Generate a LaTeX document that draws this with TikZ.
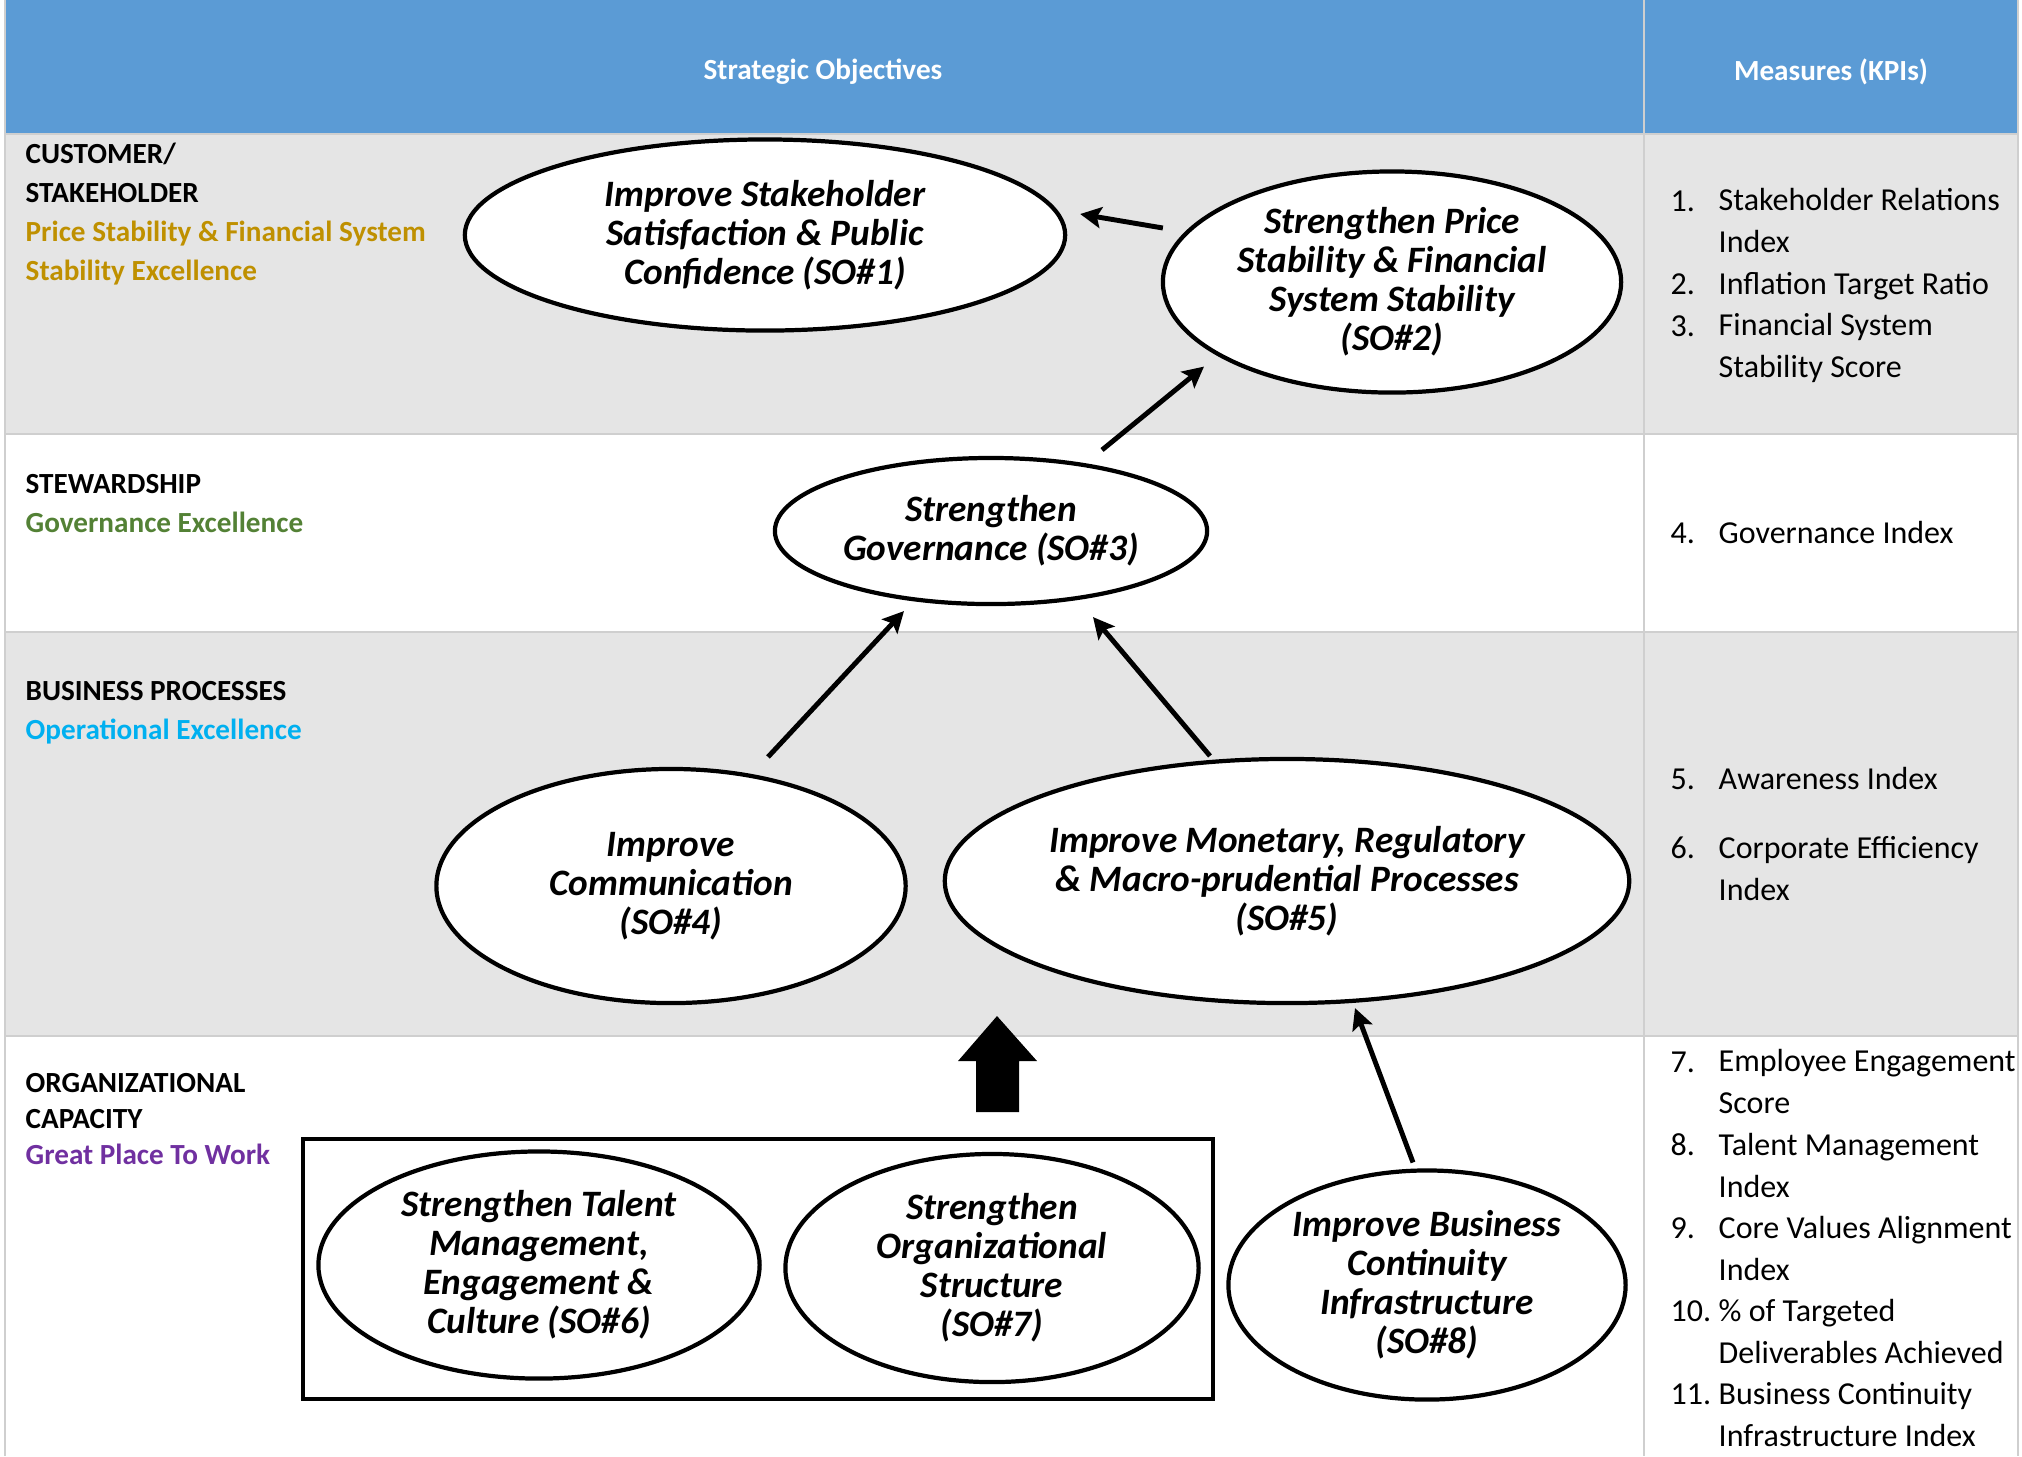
\documentclass[tikz,border=0pt]{standalone}
\usepackage{fontspec}
\setmainfont{Carlito}
\usetikzlibrary{shapes.geometric,arrows.meta}

\definecolor{headblue}{HTML}{5B9BD5}
\definecolor{rowgray}{HTML}{E5E5E5}
\definecolor{gridgray}{HTML}{CFCFCF}
\definecolor{persgold}{HTML}{BF9000}
\definecolor{persgreen}{HTML}{538135}
\definecolor{perscyan}{HTML}{00B0F0}
\definecolor{perspurple}{HTML}{7030A0}

\newcommand{\objfont}{\fontsize{10.6}{11.1}\selectfont\bfseries\itshape}
\newcommand{\persfont}{\fontsize{8.3}{11}\selectfont\bfseries}
\newcommand{\kpifont}{\fontsize{9.1}{11.9}\selectfont}

\tikzset{
    obj/.style={ellipse, draw, line width=1.2pt, fill=white, inner sep=0pt, outer sep=0pt, align=center, font=\objfont},
    arr/.style={-{Stealth[length=6pt,width=6pt,inset=1.2pt]}, line width=1.4pt},
    pers/.style={anchor=base west, align=left, inner sep=0pt, font=\persfont},
    kpi/.style={anchor=base west, align=left, inner sep=0pt, font=\kpifont},
    head/.style={text=white, font=\fontsize{8.3}{10}\selectfont\bfseries}
}

\begin{document}
\begin{tikzpicture}[x=0.01cm, y=-0.01cm]
\useasboundingbox (0,0) rectangle (2022,1456);

% Table background
\fill[headblue] (5,0) rectangle (2018,134);
\fill[rowgray] (5,134) rectangle (2018,434);   % customer row
\fill[rowgray] (5,632) rectangle (2018,1036);  % business processes row

% Grid lines
\foreach \y in {134,434,632,1036}
    \draw[gridgray, line width=0.6pt] (5,\y) -- (2018,\y);
\foreach \x in {5,1644,2018}
    \draw[gridgray, line width=0.6pt] (\x,0) -- (\x,1456);

% Header
\node[head] (hdobj) at (823,72) {Strategic Objectives};
\node[head] (hdkpi) at (1831,72) {Measures (KPIs)};

% Perspectives (anchored on the baseline of their last line)
\node[pers] (perscust) at (25,280) {CUSTOMER/\\STAKEHOLDER\\\textcolor{persgold}{Price Stability \& Financial System}\\\textcolor{persgold}{Stability Excellence}};
\node[pers] (persstew) at (25,532) {STEWARDSHIP\\\textcolor{persgreen}{Governance Excellence}};
\node[pers] (persbus) at (25,739) {BUSINESS PROCESSES\\\textcolor{perscyan}{Operational Excellence}};
\node[pers, font=\fontsize{8.3}{10.2}\selectfont\bfseries] (persorg) at (25,1164) {ORGANIZATIONAL\\CAPACITY\\\textcolor{perspurple}{Great Place To Work}};

% Strategic objectives
\node[obj, minimum width=6.0cm, minimum height=1.91cm] (so1) at (765,235) {Improve Stakeholder\\Satisfaction \& Public\\Confidence (SO\#1)};
\node[obj, minimum width=4.58cm, minimum height=2.21cm] (so2) at (1392,282) {Strengthen Price\\Stability \& Financial\\System Stability\\(SO\#2)};
\node[obj, minimum width=4.32cm, minimum height=1.46cm] (so3) at (991,531) {Strengthen\\Governance (SO\#3)};
\node[obj, minimum width=4.69cm, minimum height=2.34cm] (so4) at (671,886) {Improve\\Communication\\(SO\#4)};
\node[obj, minimum width=6.84cm, minimum height=2.44cm] (so5) at (1287,881) {Improve Monetary, Regulatory\\\& Macro-prudential Processes\\(SO\#5)};
\node[draw, line width=1.2pt, minimum width=9.09cm, minimum height=2.6cm] (grp) at (758,1269) {};
\node[obj, minimum width=4.41cm, minimum height=2.27cm] (so6) at (539,1265) {Strengthen Talent\\Management,\\Engagement \&\\Culture (SO\#6)};
\node[obj, minimum width=4.13cm, minimum height=2.28cm] (so7) at (992,1268) {Strengthen\\Organizational\\Structure\\(SO\#7)};
\node[obj, minimum width=3.97cm, minimum height=2.29cm] (so8) at (1427,1285) {Improve Business\\Continuity\\Infrastructure\\(SO\#8)};

% Cause and effect links
\draw[arr] ([shift={(0,-54)}]so2.west) -- ([shift={(15,-21)}]so1.east);
\draw[arr] ([shift={(111,-8)}]so3.north) -- ([shift={(-188,-26)}]so2.south);
\draw[arr] ([shift={(97,-12)}]so4.north) -- ([shift={(-87,7)}]so3.south);
\draw[arr] ([shift={(-77,-3)}]so5.north) -- ([shift={(102,13)}]so3.south);
\draw[arr] ([shift={(-14,-8)}]so8.north) -- ([shift={(68,5)}]so5.south);

% Block arrow from the capacity group
\fill (976,1112) -- (976,1061) -- (958,1061) -- (997,1016) -- (1037,1061) -- (1019,1061) -- (1019,1112) -- cycle;

% Measures: number on first baseline, text anchored on its last baseline
\foreach \n/\yb/\yl/\txt in {1/211/252/{Stakeholder Relations\\Index}, 2/294/294/{Inflation Target Ratio}, 3/336/377/{Financial System\\Stability Score}, 4/543/543/{Governance Index}, 5/789/789/{Awareness Index}, 6/858/900/{Corporate Efficiency\\Index}, 7/1072/1113/{Employee Engagement\\Score}, 8/1155/1197/{Talent Management\\Index}, 9/1238/1280/{Core Values Alignment\\Index}, 10/1321/1363/{\% of Targeted\\Deliverables Achieved}, 11/1404/1446/{Business Continuity\\Infrastructure Index}}{
    \node[kpi] (num\n) at (1670,\yb) {\n.};
    \node[kpi] (kpi\n) at (1718,\yl) {\txt};
}
\end{tikzpicture}
\end{document}
